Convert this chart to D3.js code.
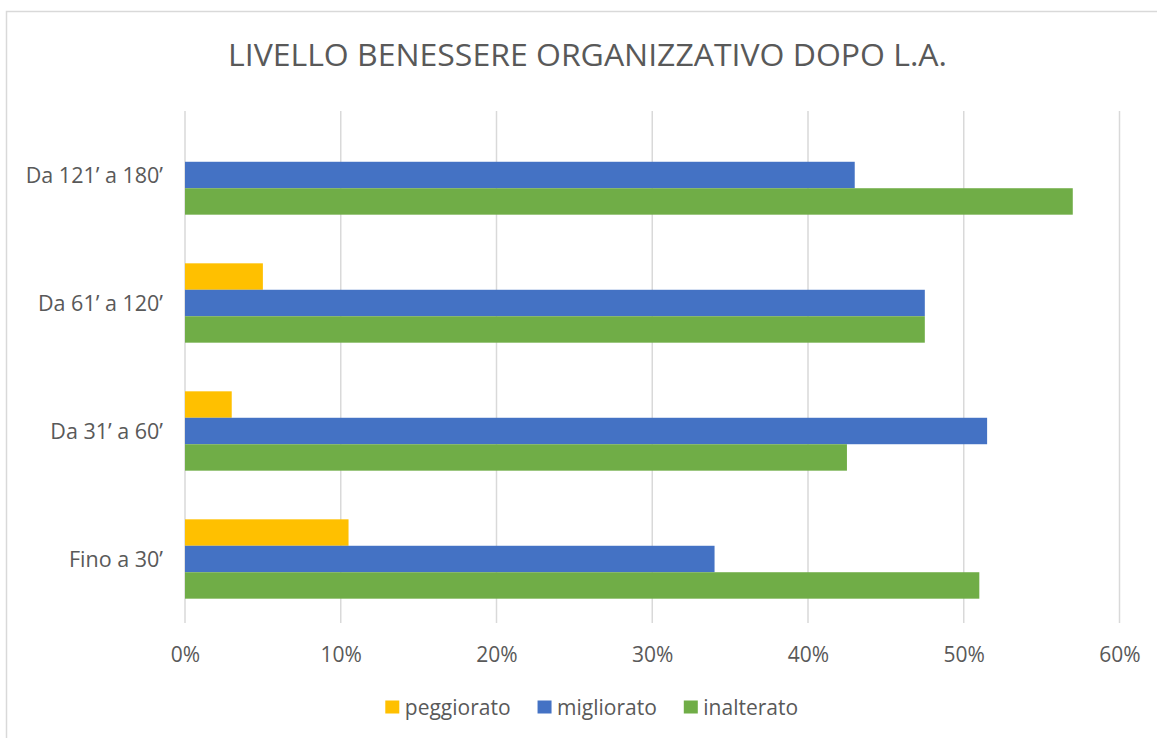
<!DOCTYPE html>
<html>
<head>
<meta charset="utf-8">
<script src="https://cdn.jsdelivr.net/npm/d3@7/dist/d3.min.js"></script>
<style>
  html, body { margin: 0; padding: 0; background: #fff; }
  svg { display: block; }
  text { font-family: "Open Sans", "Noto Sans", sans-serif; fill: #595959; }
</style>
</head>
<body>
<svg id="chart" width="1157" height="738"></svg>
<script>
const title = "LIVELLO BENESSERE ORGANIZZATIVO DOPO L.A.";
const categories = ["Da 121’ a 180’", "Da 61’ a 120’", "Da 31’ a 60’", "Fino a 30’"];
const seriesNames = ["peggiorato", "migliorato", "inalterato"];
const seriesColors = ["#FFC000", "#4472C4", "#70AD47"];
const peggiorato = [0, 5, 3, 10.5];
const migliorato = [43, 47.5, 51.5, 34];
const inalterato = [57, 47.5, 42.5, 51];
const tickValues = [0, 10, 20, 30, 40, 50, 60];

const seriesValues = [peggiorato, migliorato, inalterato];
const svg = d3.select("#chart");
const W = 1157, H = 738;
const FS = 21;

// chart frame (extends past right/bottom edges)
svg.append("rect")
  .attr("x", 6.5).attr("y", 11.5)
  .attr("width", W + 20).attr("height", H + 20)
  .attr("fill", "#fff").attr("stroke", "#d9d9d9").attr("stroke-width", 1.5);

const plot = { left: 185, right: 1119.5, top: 111, bottom: 623 };

const x = d3.scaleLinear().domain([0, 60]).range([plot.left, plot.right]);
const y0 = d3.scaleBand().domain(categories).range([plot.top, plot.bottom])
  .paddingInner(0.38).paddingOuter(0.19);
const y1 = d3.scaleBand().domain(seriesNames).range([0, y0.bandwidth()]);

// title
svg.append("text")
  .attr("x", 587.5).attr("y", 66)
  .attr("text-anchor", "middle")
  .attr("font-size", 31).attr("font-weight", 400)
  .attr("textLength", 719).attr("lengthAdjust", "spacingAndGlyphs")
  .text(title);

// gridlines
svg.append("g").selectAll("line").data(tickValues).join("line")
  .attr("x1", d => x(d)).attr("x2", d => x(d))
  .attr("y1", plot.top).attr("y2", plot.bottom)
  .attr("stroke", "#d9d9d9").attr("stroke-width", 1.5);

// bars
const groups = svg.append("g").selectAll("g").data(categories).join("g")
  .attr("transform", d => `translate(0,${y0(d)})`);
groups.selectAll("rect")
  .data((c, ci) => seriesNames.map((s, si) => ({ s, si, v: seriesValues[si][ci] })))
  .join("rect")
  .attr("x", x(0))
  .attr("y", d => y1(d.s))
  .attr("width", d => x(d.v) - x(0))
  .attr("height", y1.bandwidth())
  .attr("fill", d => seriesColors[d.si]);

// x axis labels
const xAxis = d3.axisBottom(x).tickValues(tickValues).tickFormat(d => d + "%").tickSize(0).tickPadding(0);
const gx = svg.append("g").attr("transform", `translate(0,${plot.bottom})`).call(xAxis);
gx.select(".domain").remove();
gx.selectAll("text").attr("font-size", FS).attr("dy", null).attr("y", 38.5)
  .style("font-family", '"Open Sans", sans-serif').attr("fill", "#595959");

// y axis labels
const yAxis = d3.axisLeft(y0).tickSize(0).tickPadding(0);
const gy = svg.append("g").attr("transform", `translate(163,0)`).call(yAxis);
gy.select(".domain").remove();
gy.selectAll("text").attr("font-size", 21.5).attr("dy", "0.35em").attr("x", 0)
  .style("font-family", '"Open Sans", sans-serif').attr("fill", "#595959");

// legend
const legend = svg.append("g");
const items = legend.selectAll("g").data(seriesNames).join("g");
items.append("rect").attr("width", 14).attr("height", 13).attr("y", -7)
  .attr("fill", (d, i) => seriesColors[i]);
items.append("text").attr("x", 19.5).attr("y", 0).attr("dy", "0.35em")
  .attr("font-size", FS).text(d => d);
let cx = 0;
const positions = [];
items.each(function () {
  const w = this.getBBox().width;
  positions.push(cx);
  cx += w + 27;
});
const total = cx - 27;
const startX = 591.7 - total / 2;
items.attr("transform", (d, i) => `translate(${startX + positions[i]},707.5)`);
</script>
</body>
</html>
